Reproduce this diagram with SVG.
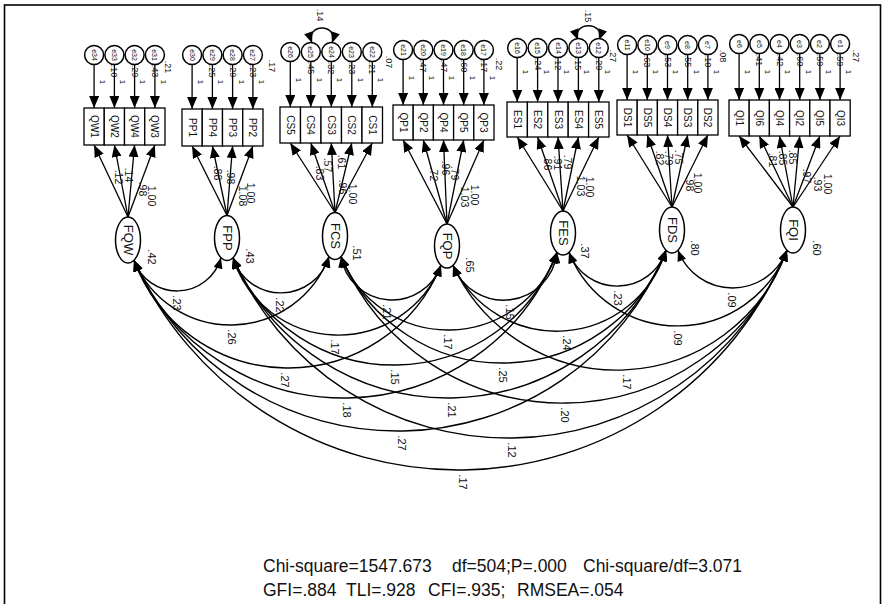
<svg xmlns="http://www.w3.org/2000/svg" width="885" height="604" viewBox="0 0 885 604">
<defs>
<marker id="ah" viewBox="0 0 12 10" refX="12" refY="5" markerWidth="12" markerHeight="10" markerUnits="userSpaceOnUse" orient="auto"><path d="M0,0 L12,5 L0,10 z" fill="#000"/></marker>
<marker id="ac" viewBox="0 0 12 10" refX="12" refY="5" markerWidth="12" markerHeight="9" markerUnits="userSpaceOnUse" orient="auto-start-reverse"><path d="M0,0 L12,5 L0,10 z" fill="#000"/></marker>
</defs>
<style>
.bx{fill:#fff;stroke:#000;stroke-width:1.3}
.ci{fill:#fff;stroke:#000;stroke-width:1.5}
.el{fill:#fff;stroke:#000;stroke-width:1.5}
.ln{stroke:#000;stroke-width:1.3;fill:none;marker-end:url(#ah)}
.cv{stroke:#000;stroke-width:1.4;fill:none;marker-start:url(#ac);marker-end:url(#ac)}
text{font-family:"Liberation Sans",Arial,sans-serif;fill:#111;text-anchor:middle;dominant-baseline:central}
.bt{font-size:10px}
.et{font-size:7px}
.ft{font-size:13px}
.nt{font-size:10.5px;fill:#222}
.ot{font-size:8px;fill:#334}
.rt{font-size:9px;fill:#333}
.ct{font-size:11px;fill:#222}
.ft2{font-size:17.5px;text-anchor:start;dominant-baseline:auto}
</style>
<rect x="4.5" y="5" width="876" height="620" fill="none" stroke="#000" stroke-width="1.6"/>

<g id="connectors">
<!-- error to indicator arrows -->
<line class="ln" x1="94.1" y1="64.5" x2="94.1" y2="108"/><line class="ln" x1="114.4" y1="64.5" x2="114.4" y2="108"/><line class="ln" x1="134.6" y1="64.5" x2="134.6" y2="108"/><line class="ln" x1="154.9" y1="64.5" x2="154.9" y2="108"/>
<line class="ln" x1="192.1" y1="64.5" x2="192.1" y2="109"/><line class="ln" x1="212.4" y1="64.5" x2="212.4" y2="109"/><line class="ln" x1="232.6" y1="64.5" x2="232.6" y2="109"/><line class="ln" x1="252.9" y1="64.5" x2="252.9" y2="109"/>
<line class="ln" x1="290.3" y1="61.5" x2="290.3" y2="107"/><line class="ln" x1="310.8" y1="61.5" x2="310.8" y2="107"/><line class="ln" x1="331.3" y1="61.5" x2="331.3" y2="107"/><line class="ln" x1="351.8" y1="61.5" x2="351.8" y2="107"/><line class="ln" x1="372.3" y1="61.5" x2="372.3" y2="107"/>
<line class="ln" x1="403.1" y1="59.5" x2="403.1" y2="105"/><line class="ln" x1="423.3" y1="59.5" x2="423.3" y2="105"/><line class="ln" x1="443.5" y1="59.5" x2="443.5" y2="105"/><line class="ln" x1="463.7" y1="59.5" x2="463.7" y2="105"/><line class="ln" x1="483.9" y1="59.5" x2="483.9" y2="105"/>
<line class="ln" x1="517.2" y1="57.5" x2="517.2" y2="102"/><line class="ln" x1="537.6" y1="57.5" x2="537.6" y2="102"/><line class="ln" x1="558" y1="57.5" x2="558" y2="102"/><line class="ln" x1="578.4" y1="57.5" x2="578.4" y2="102"/><line class="ln" x1="598.8" y1="57.5" x2="598.8" y2="102"/>
<line class="ln" x1="627.1" y1="54.5" x2="627.1" y2="100"/><line class="ln" x1="647.3" y1="54.5" x2="647.3" y2="100"/><line class="ln" x1="667.5" y1="54.5" x2="667.5" y2="100"/><line class="ln" x1="687.7" y1="54.5" x2="687.7" y2="100"/><line class="ln" x1="707.9" y1="54.5" x2="707.9" y2="100"/>
<line class="ln" x1="739.1" y1="53.5" x2="739.1" y2="100"/><line class="ln" x1="759.3" y1="53.5" x2="759.3" y2="100"/><line class="ln" x1="779.5" y1="53.5" x2="779.5" y2="100"/><line class="ln" x1="799.7" y1="53.5" x2="799.7" y2="100"/><line class="ln" x1="819.9" y1="53.5" x2="819.9" y2="100"/><line class="ln" x1="840.1" y1="53.5" x2="840.1" y2="100"/>
<!-- loadings -->
<line class="ln" x1="128" y1="217" x2="94.1" y2="145"/><line class="ln" x1="128" y1="217" x2="114.4" y2="145"/><line class="ln" x1="128" y1="217" x2="134.6" y2="145"/><line class="ln" x1="128" y1="217" x2="154.9" y2="145"/>
<line class="ln" x1="227" y1="215.5" x2="192.1" y2="146"/><line class="ln" x1="227" y1="215.5" x2="212.4" y2="146"/><line class="ln" x1="227" y1="215.5" x2="232.6" y2="146"/><line class="ln" x1="227" y1="215.5" x2="252.9" y2="146"/>
<line class="ln" x1="335" y1="212.5" x2="290.3" y2="143"/><line class="ln" x1="335" y1="212.5" x2="310.8" y2="143"/><line class="ln" x1="335" y1="212.5" x2="331.3" y2="143"/><line class="ln" x1="335" y1="212.5" x2="351.8" y2="143"/><line class="ln" x1="335" y1="212.5" x2="372.3" y2="143"/>
<line class="ln" x1="447" y1="224" x2="403.1" y2="140"/><line class="ln" x1="447" y1="224" x2="423.3" y2="140"/><line class="ln" x1="447" y1="224" x2="443.5" y2="140"/><line class="ln" x1="447" y1="224" x2="463.7" y2="140"/><line class="ln" x1="447" y1="224" x2="483.9" y2="140"/>
<line class="ln" x1="563" y1="211" x2="517.2" y2="137"/><line class="ln" x1="563" y1="211" x2="537.6" y2="137"/><line class="ln" x1="563" y1="211" x2="558" y2="137"/><line class="ln" x1="563" y1="211" x2="578.4" y2="137"/><line class="ln" x1="563" y1="211" x2="598.8" y2="137"/>
<line class="ln" x1="672" y1="207" x2="627.1" y2="135"/><line class="ln" x1="672" y1="207" x2="647.3" y2="135"/><line class="ln" x1="672" y1="207" x2="667.5" y2="135"/><line class="ln" x1="672" y1="207" x2="687.7" y2="135"/><line class="ln" x1="672" y1="207" x2="707.9" y2="135"/>
<line class="ln" x1="793" y1="207" x2="739.1" y2="136"/><line class="ln" x1="793" y1="207" x2="759.3" y2="136"/><line class="ln" x1="793" y1="207" x2="779.5" y2="136"/><line class="ln" x1="793" y1="207" x2="799.7" y2="136"/><line class="ln" x1="793" y1="207" x2="819.9" y2="136"/><line class="ln" x1="793" y1="207" x2="840.1" y2="136"/>
<!-- error covariances -->
<path class="cv" d="M312,43C305,23 339,23 332,43"/>
<path class="cv" d="M578,40C571,21 606,21 599,40"/>
<!-- factor covariances -->
<path class="cv" d="M134,260.2A45.6,45.6 0 0 0 221,257.7"/>
<path class="cv" d="M233,257.7A50.1,50.1 0 0 0 329,256.6"/>
<path class="cv" d="M341,256.6A51.8,51.8 0 0 0 441,265.3"/>
<path class="cv" d="M453,265.3A53.9,53.9 0 0 0 557,252.3"/>
<path class="cv" d="M569,252.3A51.2,51.2 0 0 0 666,250.2"/>
<path class="cv" d="M678,250.2A58.2,58.2 0 0 0 787,250.2"/>
<path class="cv" d="M134,260.2A104.7,104.7 0 0 0 329,256.6"/>
<path class="cv" d="M233,257.7A110.4,110.4 0 0 0 441,265.3"/>
<path class="cv" d="M341,256.6A115,115 0 0 0 557,252.3"/>
<path class="cv" d="M453,265.3A114.4,114.4 0 0 0 666,250.2"/>
<path class="cv" d="M569,252.3A116.9,116.9 0 0 0 787,250.2"/>
<path class="cv" d="M134,260.2A164.6,164.6 0 0 0 441,265.3"/>
<path class="cv" d="M233,257.7A174.3,174.3 0 0 0 557,252.3"/>
<path class="cv" d="M341,256.6A175.3,175.3 0 0 0 666,250.2"/>
<path class="cv" d="M453,265.3A180.6,180.6 0 0 0 787,250.2"/>
<path class="cv" d="M134,260.2A228.7,228.7 0 0 0 557,252.3"/>
<path class="cv" d="M233,257.7A234.8,234.8 0 0 0 666,250.2"/>
<path class="cv" d="M341,256.6A241,241 0 0 0 787,250.2"/>
<path class="cv" d="M134,260.2A289.2,289.2 0 0 0 666,250.2"/>
<path class="cv" d="M233,257.7A300.5,300.5 0 0 0 787,250.2"/>
<path class="cv" d="M134,260.2A355.6,355.6 0 0 0 787,250.2"/>
<!-- labels: error weights -->
<g class="ot">
<text transform="translate(102,82) rotate(90)">1</text><text transform="translate(122,82) rotate(90)">1</text><text transform="translate(142,82) rotate(90)">1</text><text transform="translate(163,82) rotate(90)">1</text>
<text transform="translate(200,82) rotate(90)">1</text><text transform="translate(220,82) rotate(90)">1</text><text transform="translate(241,82) rotate(90)">1</text><text transform="translate(261,82) rotate(90)">1</text>
<text transform="translate(298,80) rotate(90)">1</text><text transform="translate(319,80) rotate(90)">1</text><text transform="translate(339,80) rotate(90)">1</text><text transform="translate(360,80) rotate(90)">1</text><text transform="translate(380,80) rotate(90)">1</text>
<text transform="translate(411,78) rotate(90)">1</text><text transform="translate(431,78) rotate(90)">1</text><text transform="translate(451,78) rotate(90)">1</text><text transform="translate(472,78) rotate(90)">1</text><text transform="translate(492,78) rotate(90)">1</text>
<text transform="translate(525,72) rotate(90)">1</text><text transform="translate(546,72) rotate(90)">1</text><text transform="translate(566,72) rotate(90)">1</text><text transform="translate(586,72) rotate(90)">1</text><text transform="translate(607,72) rotate(90)">1</text>
<text transform="translate(635,72) rotate(90)">1</text><text transform="translate(655,72) rotate(90)">1</text><text transform="translate(675,72) rotate(90)">1</text><text transform="translate(696,72) rotate(90)">1</text><text transform="translate(716,72) rotate(90)">1</text>
<text transform="translate(747,72) rotate(90)">1</text><text transform="translate(767,72) rotate(90)">1</text><text transform="translate(787,72) rotate(90)">1</text><text transform="translate(808,72) rotate(90)">1</text><text transform="translate(828,72) rotate(90)">1</text><text transform="translate(848,72) rotate(90)">1</text>
</g>
<!-- labels: squared multiple correlations -->
<g class="rt">
<text transform="translate(114.4,71) rotate(90)">.10</text><text transform="translate(134.6,71) rotate(90)">.29</text><text transform="translate(154.9,71) rotate(90)">.43</text><text transform="translate(168,67) rotate(90)">.21</text>
<text transform="translate(212.4,71) rotate(90)">.25</text><text transform="translate(232.6,71) rotate(90)">.29</text><text transform="translate(252.9,71) rotate(90)">.23</text><text transform="translate(272,66) rotate(90)">.17</text>
<text transform="translate(310.8,68) rotate(90)">.45</text><text transform="translate(331.3,68) rotate(90)">.32</text><text transform="translate(351.8,68) rotate(90)">.23</text><text transform="translate(372.3,68) rotate(90)">.21</text><text transform="translate(389,62) rotate(90)">.07</text>
<text transform="translate(423.3,66) rotate(90)">.47</text><text transform="translate(443.5,66) rotate(90)">.47</text><text transform="translate(463.7,66) rotate(90)">.60</text><text transform="translate(483.9,66) rotate(90)">.17</text><text transform="translate(499,64) rotate(90)">.22</text>
<text transform="translate(537.6,64) rotate(90)">.24</text><text transform="translate(558,64) rotate(90)">.12</text><text transform="translate(578.4,64) rotate(90)">.15</text><text transform="translate(598.8,64) rotate(90)">.29</text><text transform="translate(613,56) rotate(90)">.27</text>
<text transform="translate(647.3,61) rotate(90)">.63</text><text transform="translate(667.5,61) rotate(90)">.53</text><text transform="translate(687.7,61) rotate(90)">.55</text><text transform="translate(707.9,61) rotate(90)">.10</text><text transform="translate(723,56) rotate(90)">.08</text>
<text transform="translate(759.3,60) rotate(90)">.41</text><text transform="translate(779.5,60) rotate(90)">.42</text><text transform="translate(799.7,60) rotate(90)">.60</text><text transform="translate(819.9,60) rotate(90)">.59</text><text transform="translate(840.1,60) rotate(90)">.59</text><text transform="translate(856,56) rotate(90)">.27</text>
<text transform="translate(320,15) rotate(90)">.14</text><text transform="translate(588,16) rotate(90)">.15</text>
</g>
<!-- labels: loadings -->
<g class="nt">
<text transform="translate(119,177) rotate(90)">.12</text><text transform="translate(129,175) rotate(90)">.14</text><text transform="translate(143,189) rotate(90)">.98</text><text transform="translate(152,196) rotate(90)">1.00</text>
<text transform="translate(218,173) rotate(90)">.88</text><text transform="translate(231,177) rotate(90)">.98</text><text transform="translate(243,196) rotate(90)">1.08</text><text transform="translate(251,193) rotate(90)">1.00</text>
<text transform="translate(320,173) rotate(90)">.83</text><text transform="translate(328,165) rotate(90)">.57</text><text transform="translate(342,162) rotate(90)">.61</text><text transform="translate(343,187) rotate(90)">.96</text><text transform="translate(353,194) rotate(90)">1.00</text>
<text transform="translate(434,174) rotate(90)">.72</text><text transform="translate(446,168) rotate(90)">.96</text><text transform="translate(455,173) rotate(90)">.79</text><text transform="translate(465,197) rotate(90)">1.03</text><text transform="translate(475,195) rotate(90)">1.00</text>
<text transform="translate(548,163) rotate(90)">.86</text><text transform="translate(558,163) rotate(90)">.91</text><text transform="translate(568,162) rotate(90)">.79</text><text transform="translate(581,186) rotate(90)">1.03</text><text transform="translate(590,187) rotate(90)">1.00</text>
<text transform="translate(660,158) rotate(90)">.82</text><text transform="translate(669,158) rotate(90)">.79</text><text transform="translate(679,157) rotate(90)">.75</text><text transform="translate(690,184) rotate(90)">.98</text><text transform="translate(698,183) rotate(90)">1.00</text>
<text transform="translate(773,160) rotate(90)">.81</text><text transform="translate(783,158) rotate(90)">.85</text><text transform="translate(793,157) rotate(90)">.85</text><text transform="translate(807,176) rotate(90)">.97</text><text transform="translate(818,184) rotate(90)">.93</text><text transform="translate(828,184) rotate(90)">1.00</text>
</g>
<!-- labels: variances and covariances -->
<g class="ct">
<text transform="translate(152,257) rotate(90)">.42</text><text transform="translate(250,256) rotate(90)">.43</text><text transform="translate(357,253) rotate(90)">.51</text><text transform="translate(470,265) rotate(90)">.65</text><text transform="translate(585,251) rotate(90)">.37</text><text transform="translate(695,248) rotate(90)">.80</text><text transform="translate(817,248) rotate(90)">.60</text>
<text transform="translate(177,303) rotate(90)">.23</text><text transform="translate(280,305) rotate(90)">.22</text><text transform="translate(387,312) rotate(90)">.21</text><text transform="translate(510,312) rotate(90)">.15</text><text transform="translate(618,298) rotate(90)">.23</text><text transform="translate(732,300) rotate(90)">.09</text>
<text transform="translate(232,337) rotate(90)">.26</text><text transform="translate(335,347) rotate(90)">.17</text><text transform="translate(448,342) rotate(90)">.17</text><text transform="translate(567,343) rotate(90)">.24</text><text transform="translate(678,338) rotate(90)">.09</text>
<text transform="translate(285,380) rotate(90)">.27</text><text transform="translate(395,377) rotate(90)">.15</text><text transform="translate(503,375) rotate(90)">.25</text><text transform="translate(627,382) rotate(90)">.17</text>
<text transform="translate(347,410) rotate(90)">.18</text><text transform="translate(452,410) rotate(90)">.21</text><text transform="translate(565,415) rotate(90)">.20</text>
<text transform="translate(402,443) rotate(90)">.27</text><text transform="translate(512,450) rotate(90)">.12</text>
<text transform="translate(463,482) rotate(90)">.17</text>
</g>
</g>

<!-- indicators -->
<g id="QW1"><rect class="bx" x="84" y="108" width="20.25" height="37"/><text class="bt" transform="translate(94.1,126.5) rotate(90)">QW1</text></g>
<g id="QW2"><rect class="bx" x="104.25" y="108" width="20.25" height="37"/><text class="bt" transform="translate(114.4,126.5) rotate(90)">QW2</text></g>
<g id="QW4"><rect class="bx" x="124.5" y="108" width="20.25" height="37"/><text class="bt" transform="translate(134.6,126.5) rotate(90)">QW4</text></g>
<g id="QW3"><rect class="bx" x="144.75" y="108" width="20.25" height="37"/><text class="bt" transform="translate(154.9,126.5) rotate(90)">QW3</text></g>
<g id="PP1"><rect class="bx" x="182" y="109" width="20.25" height="37"/><text class="bt" transform="translate(192.1,127.5) rotate(90)">PP1</text></g>
<g id="PP4"><rect class="bx" x="202.25" y="109" width="20.25" height="37"/><text class="bt" transform="translate(212.4,127.5) rotate(90)">PP4</text></g>
<g id="PP3"><rect class="bx" x="222.5" y="109" width="20.25" height="37"/><text class="bt" transform="translate(232.6,127.5) rotate(90)">PP3</text></g>
<g id="PP2"><rect class="bx" x="242.75" y="109" width="20.25" height="37"/><text class="bt" transform="translate(252.9,127.5) rotate(90)">PP2</text></g>
<g id="CS5"><rect class="bx" x="280" y="107" width="20.5" height="36"/><text class="bt" transform="translate(290.3,125) rotate(90)">CS5</text></g>
<g id="CS4"><rect class="bx" x="300.5" y="107" width="20.5" height="36"/><text class="bt" transform="translate(310.8,125) rotate(90)">CS4</text></g>
<g id="CS3"><rect class="bx" x="321" y="107" width="20.5" height="36"/><text class="bt" transform="translate(331.3,125) rotate(90)">CS3</text></g>
<g id="CS2"><rect class="bx" x="341.5" y="107" width="20.5" height="36"/><text class="bt" transform="translate(351.8,125) rotate(90)">CS2</text></g>
<g id="CS1"><rect class="bx" x="362" y="107" width="20.5" height="36"/><text class="bt" transform="translate(372.3,125) rotate(90)">CS1</text></g>
<g id="QP1"><rect class="bx" x="393" y="105" width="20.2" height="35"/><text class="bt" transform="translate(403.1,122.5) rotate(90)">QP1</text></g>
<g id="QP2"><rect class="bx" x="413.2" y="105" width="20.2" height="35"/><text class="bt" transform="translate(423.3,122.5) rotate(90)">QP2</text></g>
<g id="QP4"><rect class="bx" x="433.4" y="105" width="20.2" height="35"/><text class="bt" transform="translate(443.5,122.5) rotate(90)">QP4</text></g>
<g id="QP5"><rect class="bx" x="453.6" y="105" width="20.2" height="35"/><text class="bt" transform="translate(463.7,122.5) rotate(90)">QP5</text></g>
<g id="QP3"><rect class="bx" x="473.8" y="105" width="20.2" height="35"/><text class="bt" transform="translate(483.9,122.5) rotate(90)">QP3</text></g>
<g id="ES1"><rect class="bx" x="507" y="102" width="20.4" height="35"/><text class="bt" transform="translate(517.2,119.5) rotate(90)">ES1</text></g>
<g id="ES2"><rect class="bx" x="527.4" y="102" width="20.4" height="35"/><text class="bt" transform="translate(537.6,119.5) rotate(90)">ES2</text></g>
<g id="ES3"><rect class="bx" x="547.8" y="102" width="20.4" height="35"/><text class="bt" transform="translate(558,119.5) rotate(90)">ES3</text></g>
<g id="ES4"><rect class="bx" x="568.2" y="102" width="20.4" height="35"/><text class="bt" transform="translate(578.4,119.5) rotate(90)">ES4</text></g>
<g id="ES5"><rect class="bx" x="588.6" y="102" width="20.4" height="35"/><text class="bt" transform="translate(598.8,119.5) rotate(90)">ES5</text></g>
<g id="DS1"><rect class="bx" x="617" y="100" width="20.2" height="35"/><text class="bt" transform="translate(627.1,117.5) rotate(90)">DS1</text></g>
<g id="DS5"><rect class="bx" x="637.2" y="100" width="20.2" height="35"/><text class="bt" transform="translate(647.3,117.5) rotate(90)">DS5</text></g>
<g id="DS4"><rect class="bx" x="657.4" y="100" width="20.2" height="35"/><text class="bt" transform="translate(667.5,117.5) rotate(90)">DS4</text></g>
<g id="DS3"><rect class="bx" x="677.6" y="100" width="20.2" height="35"/><text class="bt" transform="translate(687.7,117.5) rotate(90)">DS3</text></g>
<g id="DS2"><rect class="bx" x="697.8" y="100" width="20.2" height="35"/><text class="bt" transform="translate(707.9,117.5) rotate(90)">DS2</text></g>
<g id="QI1"><rect class="bx" x="729" y="100" width="20.2" height="36"/><text class="bt" transform="translate(739.1,118) rotate(90)">QI1</text></g>
<g id="QI6"><rect class="bx" x="749.2" y="100" width="20.2" height="36"/><text class="bt" transform="translate(759.3,118) rotate(90)">QI6</text></g>
<g id="QI4"><rect class="bx" x="769.4" y="100" width="20.2" height="36"/><text class="bt" transform="translate(779.5,118) rotate(90)">QI4</text></g>
<g id="QI2"><rect class="bx" x="789.6" y="100" width="20.2" height="36"/><text class="bt" transform="translate(799.7,118) rotate(90)">QI2</text></g>
<g id="QI5"><rect class="bx" x="809.8" y="100" width="20.2" height="36"/><text class="bt" transform="translate(819.9,118) rotate(90)">QI5</text></g>
<g id="QI3"><rect class="bx" x="830" y="100" width="20.2" height="36"/><text class="bt" transform="translate(840.1,118) rotate(90)">QI3</text></g>

<!-- errors -->
<g id="e34"><circle class="ci" cx="94.1" cy="55" r="9.5"/><text class="et" transform="translate(94.1,55) rotate(90)">e34</text></g>
<g id="e33"><circle class="ci" cx="114.4" cy="55" r="9.5"/><text class="et" transform="translate(114.4,55) rotate(90)">e33</text></g>
<g id="e32"><circle class="ci" cx="134.6" cy="55" r="9.5"/><text class="et" transform="translate(134.6,55) rotate(90)">e32</text></g>
<g id="e31"><circle class="ci" cx="154.9" cy="55" r="9.5"/><text class="et" transform="translate(154.9,55) rotate(90)">e31</text></g>
<g id="e30"><circle class="ci" cx="192.1" cy="55" r="9.5"/><text class="et" transform="translate(192.1,55) rotate(90)">e30</text></g>
<g id="e29"><circle class="ci" cx="212.4" cy="55" r="9.5"/><text class="et" transform="translate(212.4,55) rotate(90)">e29</text></g>
<g id="e28"><circle class="ci" cx="232.6" cy="55" r="9.5"/><text class="et" transform="translate(232.6,55) rotate(90)">e28</text></g>
<g id="e27"><circle class="ci" cx="252.9" cy="55" r="9.5"/><text class="et" transform="translate(252.9,55) rotate(90)">e27</text></g>
<g id="e26"><circle class="ci" cx="290.3" cy="52" r="9.5"/><text class="et" transform="translate(290.3,52) rotate(90)">e26</text></g>
<g id="e25"><circle class="ci" cx="310.8" cy="52" r="9.5"/><text class="et" transform="translate(310.8,52) rotate(90)">e25</text></g>
<g id="e24"><circle class="ci" cx="331.3" cy="52" r="9.5"/><text class="et" transform="translate(331.3,52) rotate(90)">e24</text></g>
<g id="e23"><circle class="ci" cx="351.8" cy="52" r="9.5"/><text class="et" transform="translate(351.8,52) rotate(90)">e23</text></g>
<g id="e22"><circle class="ci" cx="372.3" cy="52" r="9.5"/><text class="et" transform="translate(372.3,52) rotate(90)">e22</text></g>
<g id="e21"><circle class="ci" cx="403.1" cy="50" r="9.5"/><text class="et" transform="translate(403.1,50) rotate(90)">e21</text></g>
<g id="e20"><circle class="ci" cx="423.3" cy="50" r="9.5"/><text class="et" transform="translate(423.3,50) rotate(90)">e20</text></g>
<g id="e19"><circle class="ci" cx="443.5" cy="50" r="9.5"/><text class="et" transform="translate(443.5,50) rotate(90)">e19</text></g>
<g id="e18"><circle class="ci" cx="463.7" cy="50" r="9.5"/><text class="et" transform="translate(463.7,50) rotate(90)">e18</text></g>
<g id="e17"><circle class="ci" cx="483.9" cy="50" r="9.5"/><text class="et" transform="translate(483.9,50) rotate(90)">e17</text></g>
<g id="e16"><circle class="ci" cx="517.2" cy="48" r="9.5"/><text class="et" transform="translate(517.2,48) rotate(90)">e16</text></g>
<g id="e15"><circle class="ci" cx="537.6" cy="48" r="9.5"/><text class="et" transform="translate(537.6,48) rotate(90)">e15</text></g>
<g id="e14"><circle class="ci" cx="558" cy="48" r="9.5"/><text class="et" transform="translate(558,48) rotate(90)">e14</text></g>
<g id="e13"><circle class="ci" cx="578.4" cy="48" r="9.5"/><text class="et" transform="translate(578.4,48) rotate(90)">e13</text></g>
<g id="e12"><circle class="ci" cx="598.8" cy="48" r="9.5"/><text class="et" transform="translate(598.8,48) rotate(90)">e12</text></g>
<g id="e11"><circle class="ci" cx="627.1" cy="45" r="9.5"/><text class="et" transform="translate(627.1,45) rotate(90)">e11</text></g>
<g id="e10"><circle class="ci" cx="647.3" cy="45" r="9.5"/><text class="et" transform="translate(647.3,45) rotate(90)">e10</text></g>
<g id="e9"><circle class="ci" cx="667.5" cy="45" r="9.5"/><text class="et" transform="translate(667.5,45) rotate(90)">e9</text></g>
<g id="e8"><circle class="ci" cx="687.7" cy="45" r="9.5"/><text class="et" transform="translate(687.7,45) rotate(90)">e8</text></g>
<g id="e7"><circle class="ci" cx="707.9" cy="45" r="9.5"/><text class="et" transform="translate(707.9,45) rotate(90)">e7</text></g>
<g id="e6"><circle class="ci" cx="739.1" cy="44" r="9.5"/><text class="et" transform="translate(739.1,44) rotate(90)">e6</text></g>
<g id="e5"><circle class="ci" cx="759.3" cy="44" r="9.5"/><text class="et" transform="translate(759.3,44) rotate(90)">e5</text></g>
<g id="e4"><circle class="ci" cx="779.5" cy="44" r="9.5"/><text class="et" transform="translate(779.5,44) rotate(90)">e4</text></g>
<g id="e3"><circle class="ci" cx="799.7" cy="44" r="9.5"/><text class="et" transform="translate(799.7,44) rotate(90)">e3</text></g>
<g id="e2"><circle class="ci" cx="819.9" cy="44" r="9.5"/><text class="et" transform="translate(819.9,44) rotate(90)">e2</text></g>
<g id="e1"><circle class="ci" cx="840.1" cy="44" r="9.5"/><text class="et" transform="translate(840.1,44) rotate(90)">e1</text></g>

<!-- factors -->
<g id="FQW"><ellipse class="el" cx="128" cy="240" rx="12.5" ry="23"/><text class="ft" transform="translate(128,240) rotate(90)">FQW</text></g>
<g id="FPP"><ellipse class="el" cx="227" cy="238" rx="12.5" ry="22.5"/><text class="ft" transform="translate(227,238) rotate(90)">FPP</text></g>
<g id="FCS"><ellipse class="el" cx="335" cy="236" rx="12.5" ry="23.5"/><text class="ft" transform="translate(335,236) rotate(90)">FCS</text></g>
<g id="FQP"><ellipse class="el" cx="447" cy="246" rx="12.5" ry="22"/><text class="ft" transform="translate(447,246) rotate(90)">FQP</text></g>
<g id="FES"><ellipse class="el" cx="563" cy="233" rx="12.5" ry="22"/><text class="ft" transform="translate(563,233) rotate(90)">FES</text></g>
<g id="FDS"><ellipse class="el" cx="672" cy="230" rx="12.5" ry="23"/><text class="ft" transform="translate(672,230) rotate(90)">FDS</text></g>
<g id="FQI"><ellipse class="el" cx="793" cy="230" rx="12.5" ry="23"/><text class="ft" transform="translate(793,230) rotate(90)">FQI</text></g>

<g id="fit">
<text class="ft2" x="263" y="572">Chi-square=1547.673</text>
<text class="ft2" x="452" y="572">df=504;P=.000</text>
<text class="ft2" x="583" y="572">Chi-square/df=3.071</text>
<text class="ft2" x="263" y="596">GFI=.884</text>
<text class="ft2" x="346" y="596">TLI=.928</text>
<text class="ft2" x="428" y="596">CFI=.935;</text>
<text class="ft2" x="517" y="596">RMSEA=.054</text>
</g>
</svg>
